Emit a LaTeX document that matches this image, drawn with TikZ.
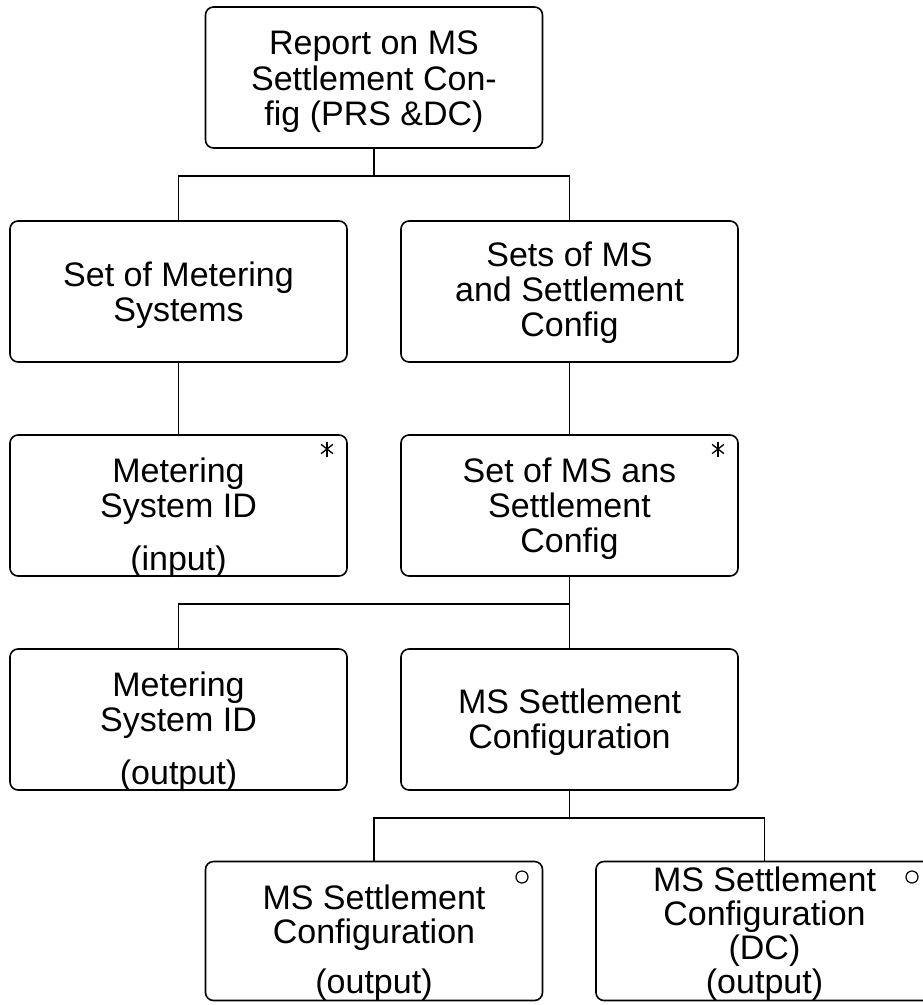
\documentclass[tikz,border=0pt]{standalone}
\usepackage{fontspec}
\setmainfont{Liberation Sans}
\begin{document}
\begin{tikzpicture}[x=1pt,y=-1pt,
  box/.style={draw, line width=1.6pt, rounded corners=8pt, minimum width=337pt, minimum height=141pt, inner sep=0pt},
  lowbox/.style={box, minimum height=139pt},
  lbl/.style={anchor=base, inner sep=0pt, font=\fontsize{34}{35}\selectfont},
  conn/.style={line width=1.6pt},
  optmark/.style={draw, circle, line width=1.2pt, minimum size=12pt, inner sep=0pt},
  manyline/.style={line width=1.3pt}
]
\useasboundingbox (0,0) rectangle (923,1005);
\clip (0,0) rectangle (923,1005);
\fill[white] (0,0) rectangle (923,1005);

% boxes
\node[box] (b1) at (374,77.5) {};
\node[box] (b2) at (178.5,291.5) {};
\node[box] (b3) at (569.5,291.5) {};
\node[box] (b4) at (178.5,505.5) {};
\node[box] (b5) at (569.5,505.5) {};
\node[box] (b6) at (178.5,719.5) {};
\node[box] (b7) at (569.5,719.5) {};
\node[lowbox] (b8) at (374,931) {};
\node[lowbox] (b9) at (764.5,931) {};

% texts
\node[lbl] (t1a) at (374,54) {Report on MS};
\node[lbl] (t1b) at (374,90) {Settlement Con-};
\node[lbl] (t1c) at (374,125) {fig (PRS \&DC)};

\node[lbl] (t2a) at (178.5,286) {Set of Metering};
\node[lbl] (t2b) at (178.5,321) {Systems};

\node[lbl] (t3a) at (569.5,266) {Sets of MS};
\node[lbl] (t3b) at (569.5,301) {and Settlement};
\node[lbl] (t3c) at (569.5,336) {Config};

\node[lbl] (t4a) at (178.5,482) {Metering};
\node[lbl] (t4b) at (178.5,517) {System ID};
\node[lbl] (t4c) at (178.5,570) {(input)};

\node[lbl] (t5a) at (569.5,482) {Set of MS ans};
\node[lbl] (t5b) at (569.5,517) {Settlement};
\node[lbl] (t5c) at (569.5,552) {Config};

\node[lbl] (t6a) at (178.5,696) {Metering};
\node[lbl] (t6b) at (178.5,731) {System ID};
\node[lbl] (t6c) at (178.5,784) {(output)};

\node[lbl] (t7a) at (569.5,713) {MS Settlement};
\node[lbl] (t7b) at (569.5,748) {Configuration};

\node[lbl] (t8a) at (374,909) {MS Settlement};
\node[lbl] (t8b) at (374,943) {Configuration};
\node[lbl] (t8c) at (374,993) {(output)};

\node[lbl] (t9a) at (764.5,891) {MS Settlement};
\node[lbl] (t9b) at (764.5,925) {Configuration};
\node[lbl] (t9c) at (764.5,959) {(DC)};
\node[lbl] (t9d) at (764.5,993) {(output)};

% marks
\coordinate (s4) at (327,449);
\coordinate (s5) at (718,449);
\foreach \c in {s4,s5}{
  \draw[manyline] (\c) ++(90:7.5pt) -- ++(270:15pt);
  \draw[manyline] (\c) ++(38:7.5pt) -- ++(218:15pt);
  \draw[manyline] (\c) ++(142:7.5pt) -- ++(322:15pt);
}
\node[optmark] (o8) at (522,877) {};
\node[optmark] (o9) at (912,877) {};

% connectors
\path (b1.south) ++(0,27) coordinate (j1);
\draw[conn] (b1.south) -- (j1);
\draw[conn] (b2.north) |- (j1);
\draw[conn] (b3.north) |- (j1);

\draw[conn] (b2.south) -- (b4.north);
\draw[conn] (b3.south) -- (b5.north);

\path (b5.south) ++(0,27) coordinate (j2);
\draw[conn] (b5.south) -- (b7.north);
\draw[conn] (b6.north) |- (j2);

\path (b7.south) ++(0,27) coordinate (j3);
\draw[conn] (b7.south) -- (j3);
\draw[conn] (b8.north) |- (j3);
\draw[conn] (b9.north) |- (j3);
\end{tikzpicture}
\end{document}
